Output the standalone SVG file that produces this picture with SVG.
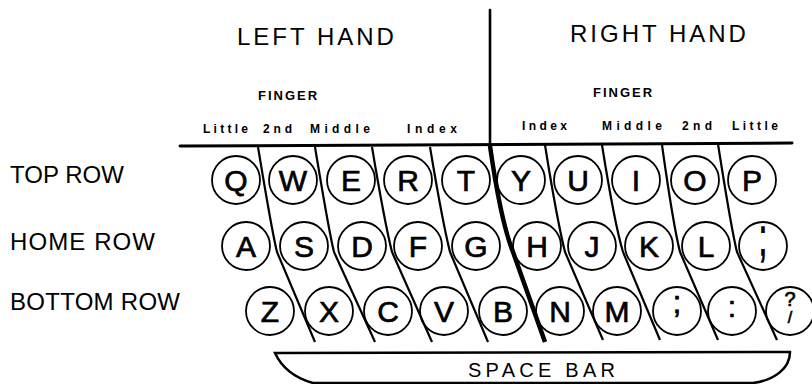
<svg xmlns="http://www.w3.org/2000/svg" width="812" height="384" viewBox="0 0 812 384">
<style>
  text { font-family: "Liberation Sans", Arial, sans-serif; fill: #000; }
  .hand { font-size: 24px; letter-spacing: 3px; }
  .row { font-size: 24px; }
  .finger { font-size: 13px; font-weight: bold; letter-spacing: 2px; }
  .fname { font-size: 12px; font-weight: bold; }
  .key circle { fill: none; stroke: #000; stroke-width: 1.8; }
  .key text { font-size: 30px; text-anchor: middle; stroke: #000; stroke-width: 0.7; }
  .rule { stroke: #000; fill: none; stroke-linecap: round; }
  .sep { stroke: #000; fill: none; stroke-width: 2.2; }
  .thick { stroke: #000; fill: none; stroke-width: 4.5; }
</style>

<g id="headings">
  <text class="hand" x="237" y="45">LEFT HAND</text>
  <text class="hand" x="570" y="42">RIGHT HAND</text>
  <text class="finger" x="258" y="100">FINGER</text>
  <text class="finger" x="593" y="97">FINGER</text>
  <text class="fname" x="203" y="133" textLength="45" lengthAdjust="spacing">Little</text>
  <text class="fname" x="263" y="133" textLength="29" lengthAdjust="spacing">2nd</text>
  <text class="fname" x="310" y="133" textLength="60" lengthAdjust="spacing">Middle</text>
  <text class="fname" x="407" y="133" textLength="50" lengthAdjust="spacing">Index</text>
  <text class="fname" x="522" y="130" textLength="45" lengthAdjust="spacing">Index</text>
  <text class="fname" x="602" y="130" textLength="60" lengthAdjust="spacing">Middle</text>
  <text class="fname" x="682" y="130" textLength="30" lengthAdjust="spacing">2nd</text>
  <text class="fname" x="732" y="130" textLength="46" lengthAdjust="spacing">Little</text>
</g>

<g id="row-labels">
  <text class="row" x="10" y="183">TOP ROW</text>
  <text class="row" x="10" y="250" textLength="145" lengthAdjust="spacing">HOME ROW</text>
  <text class="row" x="10" y="310" textLength="170" lengthAdjust="spacing">BOTTOM ROW</text>
</g>

<g id="connectors">
  <line class="rule" x1="490" y1="10" x2="490" y2="146" stroke-width="2.6"/>
  <line class="rule" x1="180" y1="146" x2="792" y2="143" stroke-width="3"/>
  <path class="sep" d="M258,147 C266,195 272,232 277,252 L315,342"/>
  <path class="sep" d="M315,147 C323,195 329,232 334,252 L375,342"/>
  <path class="sep" d="M372,147 C380,195 387,232 392,252 L432,342"/>
  <path class="sep" d="M430,147 C438,195 445,232 450,252 L488,342"/>
  <path class="thick" d="M490,146 C497,195 505,232 513,252 L545,342"/>
  <path class="sep" d="M545,145 C553,195 560,232 565,252 L603,340"/>
  <path class="sep" d="M602,145 C610,195 617,232 623,252 L660,340"/>
  <path class="sep" d="M662,145 C669,195 675,232 680,252 L718,340"/>
  <path class="sep" d="M718,144 C726,195 732,232 737,252 L777,340"/>
</g>

<g id="top-row">
  <g id="key-Q" class="key"><circle cx="236" cy="180" r="24"/><text x="236" y="191">Q</text></g>
  <g id="key-W" class="key"><circle cx="293" cy="180" r="24"/><text x="293" y="191">W</text></g>
  <g id="key-E" class="key"><circle cx="351" cy="180" r="24"/><text x="351" y="191">E</text></g>
  <g id="key-R" class="key"><circle cx="408" cy="180" r="24"/><text x="408" y="191">R</text></g>
  <g id="key-T" class="key"><circle cx="466" cy="180" r="24"/><text x="466" y="191">T</text></g>
  <g id="key-Y" class="key"><circle cx="521" cy="180" r="24"/><text x="521" y="191">Y</text></g>
  <g id="key-U" class="key"><circle cx="578" cy="180" r="24"/><text x="578" y="191">U</text></g>
  <g id="key-I" class="key"><circle cx="636" cy="180" r="24"/><text x="636" y="191">I</text></g>
  <g id="key-O" class="key"><circle cx="695" cy="180" r="24"/><text x="695" y="191">O</text></g>
  <g id="key-P" class="key"><circle cx="752" cy="180" r="24"/><text x="752" y="191">P</text></g>
</g>

<g id="home-row">
  <g id="key-A" class="key"><circle cx="246" cy="246" r="24"/><text x="246" y="257">A</text></g>
  <g id="key-S" class="key"><circle cx="304" cy="246" r="24"/><text x="304" y="257">S</text></g>
  <g id="key-D" class="key"><circle cx="362" cy="246" r="24"/><text x="362" y="257">D</text></g>
  <g id="key-F" class="key"><circle cx="418" cy="246" r="24"/><text x="418" y="257">F</text></g>
  <g id="key-G" class="key"><circle cx="476" cy="246" r="24"/><text x="476" y="257">G</text></g>
  <g id="key-H" class="key"><circle cx="537" cy="246" r="24"/><text x="537" y="257">H</text></g>
  <g id="key-J" class="key"><circle cx="592" cy="246" r="24"/><text x="592" y="257">J</text></g>
  <g id="key-K" class="key"><circle cx="649" cy="246" r="24"/><text x="649" y="257">K</text></g>
  <g id="key-L" class="key"><circle cx="706" cy="246" r="24"/><text x="706" y="257">L</text></g>
  <g id="key-semicolon-home" class="key"><circle cx="763" cy="246" r="24"/><text transform="translate(763 246) scale(1 1.8)" x="0" y="5">;</text></g>
</g>

<g id="bottom-row">
  <g id="key-Z" class="key"><circle cx="270" cy="311" r="24"/><text x="270" y="322">Z</text></g>
  <g id="key-X" class="key"><circle cx="329" cy="311" r="24"/><text x="329" y="322">X</text></g>
  <g id="key-C" class="key"><circle cx="388" cy="311" r="24"/><text x="388" y="322">C</text></g>
  <g id="key-V" class="key"><circle cx="444" cy="311" r="24"/><text x="444" y="322">V</text></g>
  <g id="key-B" class="key"><circle cx="503" cy="311" r="24"/><text x="503" y="322">B</text></g>
  <g id="key-N" class="key"><circle cx="560" cy="311" r="24"/><text x="560" y="322">N</text></g>
  <g id="key-M" class="key"><circle cx="617" cy="311" r="24"/><text x="617" y="322">M</text></g>
  <g id="key-semicolon" class="key"><circle cx="677" cy="311" r="24"/><text x="677" y="313" style="font-size:32px">;</text></g>
  <g id="key-colon" class="key"><circle cx="732" cy="311" r="24"/><text x="732" y="317">:</text></g>
  <g id="key-question" class="key"><circle cx="790" cy="311" r="24"/><text x="790" y="306" style="font-size:20px">?</text><text x="790" y="323" style="font-size:16px">/</text></g>
</g>

<g id="space-bar">
  <path d="M275,353 L790,352 C790,368 775,380 753,383 L313,383 C295,378 282,368 275,353 Z" fill="none" stroke="#000" stroke-width="2.5"/>
  <text x="468" y="377" style="font-size:20px" textLength="147" lengthAdjust="spacing">SPACE BAR</text>
</g>
</svg>
